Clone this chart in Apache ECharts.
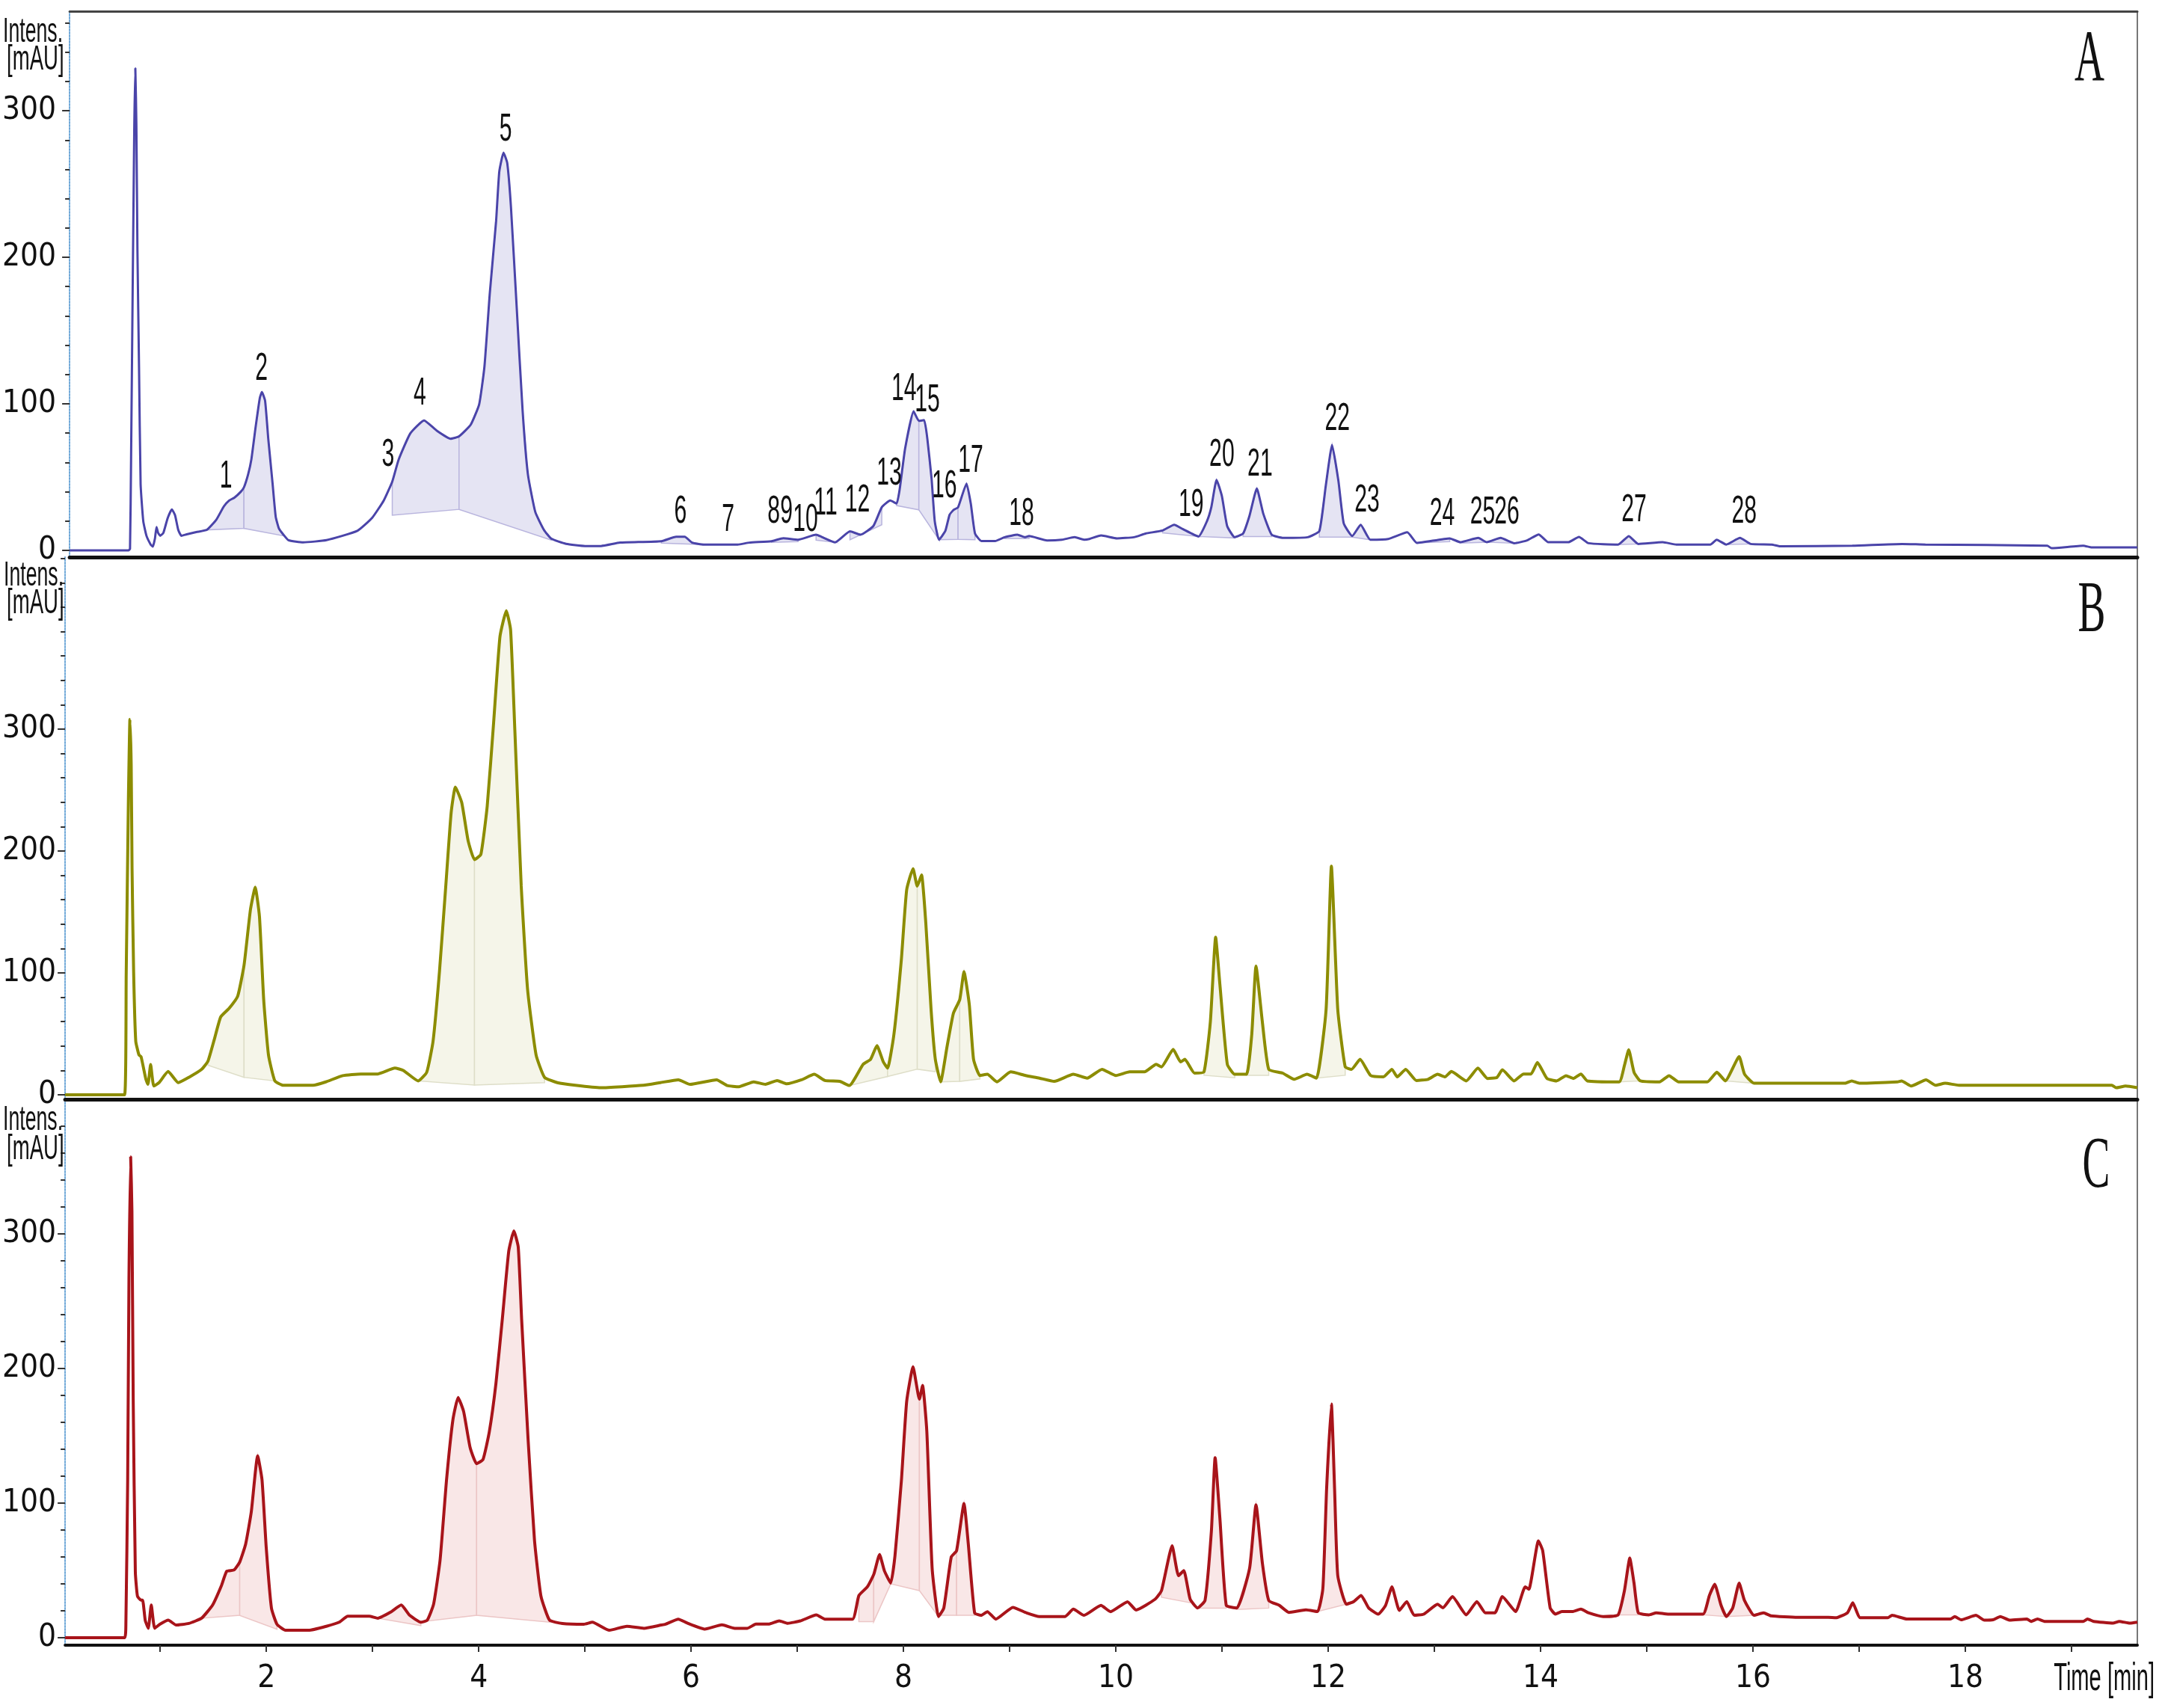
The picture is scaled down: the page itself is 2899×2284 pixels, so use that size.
<!DOCTYPE html>
<html><head><meta charset="utf-8">
<script src="https://cdn.jsdelivr.net/npm/echarts@6/dist/echarts.min.js"></script>
<style>html,body{margin:0;padding:0;background:#fff}#c{width:2899px;height:2284px}</style>
</head><body><div id="c"></div>
<script>
// ---------- DATA (time in min, intensity in mAU) ----------
const timeA = [0.105,0.66,0.675,0.685,0.70,0.715,0.725,0.735,0.745,0.76,0.775,0.80,0.83,0.87,0.89,0.91,0.925,0.94,0.96,0.99,1.03,1.07,1.10,1.13,1.16,1.21,1.30,1.40,1.49,1.56,1.61,1.66,1.72,1.75,1.79,1.82,1.86,1.90,1.92,1.95,1.98,2.02,2.05,2.08,2.12,2.17,2.31,2.53,2.82,2.96,3.07,3.15,3.21,3.32,3.45,3.57,3.70,3.78,3.89,3.97,4.02,4.07,4.13,4.16,4.20,4.235,4.27,4.325,4.38,4.43,4.50,4.58,4.65,4.79,4.97,5.12,5.30,5.69,5.83,5.91,5.98,6.09,6.41,6.52,6.73,6.84,6.98,7.15,7.20,7.33,7.47,7.57,7.69,7.77,7.85,7.91,7.94,7.99,8.07,8.12,8.17,8.20,8.24,8.27,8.31,8.37,8.41,8.45,8.49,8.57,8.61,8.65,8.71,8.84,8.93,9.05,9.12,9.16,9.33,9.47,9.59,9.68,9.73,9.84,9.99,10.15,10.26,10.42,10.53,10.61,10.76,10.84,10.88,10.93,10.98,11.03,11.10,11.18,11.24,11.31,11.37,11.45,11.56,11.79,11.90,11.96,12.02,12.08,12.13,12.21,12.29,12.38,12.55,12.73,12.82,13.13,13.23,13.40,13.48,13.61,13.74,13.86,13.97,14.06,14.25,14.35,14.44,14.72,14.82,14.91,15.14,15.27,15.59,15.65,15.74,15.87,15.97,16.17,16.25,16.93,17.40,17.62,18.77,18.81,19.11,19.19,19.62];
const intensityA = [0,0,1,63,178,287,329,290,205,125,45,20,10,4,2.5,8,16,12,10,12,22,28,24,14,10,11,12.5,14,21,30,34,36,40,43,52,62,84,104,108,102,76,46,23,15,11,7,5.5,7,13.3,22.2,34.1,47,61.9,79.8,88.7,81.7,76.2,77.8,85.7,99.6,125.4,175,224.7,258.4,271.3,264.4,234.6,165.1,95.6,52,26.2,14.2,8,4.5,3,3,5.3,6.3,9.3,9.3,5.3,4,4,5.3,6.3,8.3,7.3,10.7,9.3,5.5,13,10.7,16.6,29.4,34,32,42.2,69.4,94.9,88.4,88.9,76.2,49,20,7.3,13.3,24.3,27.7,29.4,45.6,32,11.5,6.4,6.4,9,10.7,9,9.8,6.8,7.3,9,7.3,7.8,10.2,8.2,9,11.5,13.6,17.5,14.6,9.5,20.1,29.4,48.1,37.1,16.6,9,11.5,23.5,42.2,25.2,10.7,8.5,9,13.3,43.9,71.9,47.3,18.4,9.8,17.5,7.3,7.8,12.4,5.1,8.2,5.6,8.5,5.6,8.5,4.9,6.8,10.9,5.6,5.6,9.2,4.9,4,9.7,4.4,5.6,4,4,7.3,4,8.5,4.4,4,2.8,3.2,4.4,4,3.2,1.5,3.2,2,2];

const timeB = [0.105,0.665,0.68,0.70,0.715,0.727,0.735,0.75,0.77,0.80,0.82,0.865,0.885,0.91,0.94,0.99,1.075,1.17,1.27,1.39,1.45,1.51,1.57,1.65,1.73,1.79,1.85,1.895,1.935,1.975,2.02,2.08,2.16,2.44,2.56,2.72,2.89,3.05,3.21,3.29,3.43,3.51,3.57,3.63,3.69,3.74,3.78,3.84,3.90,3.96,4.02,4.08,4.14,4.20,4.26,4.30,4.34,4.40,4.46,4.54,4.62,4.74,4.91,5.15,5.55,5.71,5.88,5.99,6.24,6.34,6.45,6.59,6.70,6.81,6.90,7.04,7.16,7.26,7.40,7.49,7.62,7.69,7.75,7.81,7.85,7.91,7.98,8.03,8.09,8.13,8.17,8.21,8.26,8.30,8.35,8.41,8.47,8.53,8.57,8.62,8.66,8.72,8.79,8.88,9.01,9.15,9.28,9.42,9.60,9.73,9.87,10.00,10.13,10.27,10.38,10.43,10.54,10.61,10.65,10.74,10.83,10.89,10.94,10.98,11.05,11.12,11.23,11.28,11.32,11.38,11.44,11.57,11.68,11.80,11.89,11.98,12.03,12.09,12.16,12.22,12.30,12.40,12.52,12.60,12.65,12.73,12.83,12.94,13.03,13.10,13.16,13.30,13.41,13.50,13.59,13.64,13.75,13.84,13.91,13.97,14.06,14.15,14.24,14.31,14.38,14.44,14.74,14.79,14.83,14.88,14.94,15.12,15.21,15.30,15.57,15.66,15.74,15.87,15.92,16.01,16.87,16.93,17.00,17.36,17.40,17.49,17.63,17.72,17.81,17.94,19.38,19.42,19.51,19.62];
const intensityB = [0,0,98,237,308,271,186,101,44,32.7,31.3,12.9,8.6,24.8,7.2,10,19.1,10,14.3,20.8,27.6,45.5,63.9,71,80.9,106.4,151.8,170.3,146.2,78,32.7,11.4,7.8,7.8,10.6,15.7,17.1,17.1,21.9,20,11.4,18.5,44,100.8,171.7,231.2,252.5,239.7,208.5,193,197.2,236.9,305,375.9,397.1,381.5,299.3,171.7,86.6,32.7,14.3,10,7.8,5.8,7.8,10,12.3,8.6,12.3,7.6,6.6,10.6,8.6,11.7,9,12.3,16.8,11.7,11,7.6,25,29.1,40.3,27,21.9,49.5,110.9,168.1,185.5,171.2,180.4,141.5,70,29.1,10.6,39.3,66.9,78.1,101,74,29.1,15.8,16.8,10.6,18.8,15.8,13.7,11,16.8,13.7,20.9,15.8,18.8,18.8,25,22.9,37.2,27,29.1,17.8,18.8,59.7,129.3,90.4,25,16.8,16.8,49.5,105.7,59.7,20.9,17.8,12.7,16.8,13.7,70,187.5,70,22.9,20.9,29.1,15.8,14.7,20.9,14.7,20.9,11.7,12.7,16.8,14.7,19.1,11.4,21.9,13.4,14.3,20.5,11.4,17.1,17.1,26.5,13.4,11.4,15.7,13.4,17.1,11.4,10.6,24.2,37,18.5,11.4,10.6,15.7,10.6,10.6,18.5,11.4,31.3,17.1,9.5,9.5,11.4,9.5,10.6,11.4,7.2,12.3,7.8,9.5,7.8,7.8,5.8,7.2,5.8];

const timeC = [0.105,0.665,0.677,0.694,0.706,0.722,0.734,0.746,0.766,0.786,0.819,0.835,0.859,0.888,0.916,0.948,0.997,1.077,1.15,1.27,1.39,1.494,1.575,1.627,1.696,1.749,1.805,1.858,1.918,1.959,1.999,2.048,2.10,2.18,2.40,2.565,2.686,2.767,2.969,3.05,3.17,3.27,3.35,3.455,3.515,3.575,3.636,3.697,3.757,3.806,3.858,3.919,3.98,4.04,4.10,4.162,4.222,4.283,4.331,4.372,4.404,4.465,4.525,4.586,4.667,4.788,4.99,5.07,5.23,5.395,5.556,5.718,5.76,5.88,5.96,6.13,6.29,6.41,6.53,6.61,6.73,6.83,6.91,7.03,7.18,7.26,7.52,7.58,7.66,7.72,7.775,7.82,7.88,7.92,7.98,8.03,8.09,8.15,8.18,8.22,8.27,8.33,8.38,8.45,8.50,8.57,8.61,8.67,8.73,8.79,8.87,9.03,9.16,9.28,9.52,9.60,9.70,9.86,9.95,10.11,10.19,10.37,10.43,10.53,10.59,10.64,10.70,10.77,10.84,10.90,10.935,10.98,11.04,11.14,11.26,11.32,11.38,11.44,11.54,11.63,11.79,11.90,11.95,11.985,12.03,12.06,12.09,12.17,12.24,12.31,12.38,12.47,12.54,12.60,12.67,12.74,12.81,12.90,13.03,13.08,13.17,13.30,13.40,13.48,13.57,13.64,13.765,13.855,13.89,13.98,14.02,14.09,14.14,14.20,14.30,14.38,14.45,14.59,14.73,14.79,14.84,14.88,14.92,15.02,15.09,15.20,15.53,15.59,15.64,15.70,15.75,15.81,15.87,15.92,16.01,16.10,16.17,16.42,16.71,16.78,16.89,16.94,17.01,17.27,17.31,17.45,17.86,17.90,17.96,18.10,18.18,18.26,18.33,18.42,18.58,18.62,18.68,18.75,19.11,19.15,19.21,19.39,19.45,19.55,19.62];
const intensityC = [0,0,10,117.4,266.4,357.4,317.1,177,48.8,30.9,27.9,27.9,13,7,24.3,7,10,13,9.4,10.6,14.5,24.3,38.3,49.4,50.3,56.2,69.6,93.5,135.2,117.4,66.7,21.9,10,5.5,5.5,8.5,11.5,16,16,14.5,19,24.3,16.6,11.5,13,24.9,57.7,117.4,162,178.5,168,141.2,129.3,132.3,153.1,188.9,236.6,287.3,302.2,290.3,236.6,147.2,72.6,30.9,13,10.6,10,11.5,5.5,8.5,7,9.4,10.1,13.8,11,6.4,9.6,7,7,10.1,10.1,12.5,10.7,12.5,16.9,13.8,13.8,31.3,37.8,47,61.8,49.8,40.6,60.9,116.3,175.4,201.2,177.2,187.4,153.2,51.6,15.7,22.1,60,64.6,99.7,70.1,18.4,16.6,19.3,13.8,22.5,18.4,15.7,15.7,21.2,16.6,24,19.3,26.7,20.6,28.6,35,68.3,46.1,49.8,28.6,22.1,27.7,79.4,133.8,88.6,24,22.1,51.7,98.8,55.4,27.7,24,18.8,20.7,19.4,36.9,110.8,173.6,110.8,46.2,24.9,26.8,31.4,22.2,17.5,24,37.8,20.3,26.8,16.6,17.5,24.9,22.2,30.5,17,26.8,18.5,18.5,30.5,19.4,37.8,36,72,64.6,22.2,17.5,19.4,19.4,21.2,18.5,15.7,17,35.1,59.1,40.6,18.5,17,18.5,17.5,17.5,31.4,39.7,24,15.7,22.2,40.6,27.7,16.6,18.5,16.2,15.1,15.1,14.8,18.5,25.9,14.8,14.8,16.6,13.9,13.9,15.7,13.3,16.6,13,13.3,15.7,13,13.9,12.1,13.9,12.1,12.1,13.9,12.1,10.8,12.1,10.8,11.5];

// integrated peak areas: [start time, end time, baseline at start, baseline at end]
const peakAreasA = [[1.40,1.75,14,15],[1.75,2.12,15,10],[3.15,3.78,24,28],[3.78,4.65,28,7],[5.69,6.09,5,4],[6.73,6.98,5.5,6],[7.15,7.33,7,5.5],[7.47,7.77,7.3,17.5],[7.91,8.12,30.6,27.7],[8.12,8.31,27.7,7.3],[8.31,8.49,7.3,7.5],[8.49,8.65,7.5,7.3],[8.93,9.16,8,8],[10.42,10.76,12,9.5],[10.76,11.10,9.5,8.5],[11.18,11.45,9.5,9.5],[11.90,12.21,9,9],[12.21,12.38,9,7.3],[12.82,13.13,5.1,6],[13.23,13.48,5,5.6],[13.48,13.74,5.6,4.9],[14.72,14.91,4,4.4],[15.74,15.97,4,4.4]];
const peakAreasB = [[1.45,1.79,24.2,14.3],[1.79,2.08,14.3,11.4],[3.43,3.96,11.4,8],[3.96,4.62,8,10],[7.49,7.85,7.6,15],[7.85,8.13,15,21],[8.13,8.30,21,19],[8.35,8.53,10.6,11],[8.53,8.72,11,13],[10.83,11.12,16,14],[11.23,11.44,16,16],[11.89,12.16,13.7,16],[14.74,14.94,10.6,11.4],[15.74,16.01,11.4,9.5]];
const peakAreasC = [[1.39,1.749,14.5,16.6],[1.749,2.10,16.6,6.3],[3.05,3.455,14.5,9],[3.515,3.98,12.4,16.6],[3.98,4.667,16.6,11.5],[7.58,7.72,12,12],[7.72,7.88,12,40],[7.88,8.15,40,35],[8.15,8.33,35,15.7],[8.33,8.50,16.6,16.6],[8.50,8.67,16.6,16.6],[10.43,10.70,30,26],[10.77,11.04,22,22],[11.14,11.44,21,22],[11.90,12.17,19.4,24.9],[14.73,14.92,17,17],[15.53,15.75,17,15.7],[15.75,16.01,15.7,16.6]];

// peak numbers of chromatogram A
const peakLabelText = ['1','2','3','4','5','6','7','8','9','10','11','12','13','14','15','16','17','18','19','20','21','22','23','24','25','26','27','28'];
const peakLabelTime = [1.58,1.915,3.11,3.41,4.22,5.87,6.32,6.75,6.87,7.05,7.24,7.54,7.84,7.98,8.20,8.36,8.61,9.09,10.69,10.98,11.34,12.07,12.35,13.06,13.44,13.67,14.87,15.91];
const peakLabelIntensity = [50,123.6,65,106.6,287,26.4,20.8,26.4,26.4,20.8,32,34,52,110,102,43.4,61,24.5,31,65,58.5,89.6,34,24.5,25.5,25.5,27.4,26.4];

const timeTicks = [1,2,3,4,5,6,7,8,9,10,11,12,13,14,15,16,17,18,19];
const timeLabels = [2,4,6,8,10,12,14,16,18];
const intensityMajor = [0,100,200,300];
const intensityMinorA = [20,40,60,80,120,140,160,180,220,240,260,280,320,340,360];
const intensityMinorB = [20,40,60,80,120,140,160,180,220,240,260,280,320,340,360,380,400,420,440];
const intensityMinorC = [20,40,60,80,120,140,160,180,220,240,260,280,320,340,360,380];
const panelLetters = ['A','B','C'];
const axisTitleY = ['Intens.', '[mAU]'];
const axisTitleX = 'Time [min]';

// ---------- LAYOUT / STYLE ----------
const narrow = "'Liberation Sans Narrow','DejaVu Sans Condensed','Arial Narrow',sans-serif";
const X_MIN = 0.105, X_MAX = 19.62;
const panels = [
  {t: timeA, y: intensityA, areas: peakAreasA, minor: intensityMinorA, top: 15, height: 730, min: -4.59, max: 367.9, line: '#4a44a9', lw: 3, fill: '#e5e4f3', edge: '#b9b5de', labelMargin: 18},
  {t: timeB, y: intensityB, areas: peakAreasB, minor: intensityMinorB, top: 745, height: 725, min: -3.68, max: 441.1, line: '#8c8c00', lw: 4, fill: '#f5f5e9', edge: '#dedec8', labelMargin: 12},
  {t: timeC, y: intensityC, areas: peakAreasC, minor: intensityMinorC, top: 1470, height: 730, min: -5.56, max: 400, line: '#a8141a', lw: 4, fill: '#f9e7e7', edge: '#ecc6c6', labelMargin: 12}
];

const grids = [], xAxes = [], yAxes = [], series = [];
panels.forEach((p, k) => {
  grids.push({left: 87, width: 2771, top: p.top, height: p.height, containLabel: false});
  const last = k === 2;
  xAxes.push({
    type: 'value', gridIndex: k, min: X_MIN, max: X_MAX, position: 'bottom',
    splitLine: {show: false},
    axisLine: {show: true, onZero: false, lineStyle: {color: '#111', width: last ? 4 : 5}},
    axisTick: {show: last, customValues: timeTicks, length: 9, lineStyle: {color: '#333', width: 2}},
    axisLabel: {show: last, customValues: timeLabels, margin: 24, fontSize: 42, fontFamily: narrow, color: '#111'}
  });
  yAxes.push({
    type: 'value', gridIndex: k, min: p.min, max: p.max, position: 'left',
    splitLine: {show: false},
    axisLine: {show: true, onZero: false, lineStyle: {color: '#6fa8d8', width: 2, type: 'dotted'}},
    axisTick: {show: true, customValues: intensityMajor, length: 10, lineStyle: {color: '#333', width: 2}},
    axisLabel: {show: true, customValues: intensityMajor, margin: p.labelMargin, fontSize: 42, fontFamily: narrow, color: '#111'}
  });
  yAxes.push({
    type: 'value', gridIndex: k, min: p.min, max: p.max, position: 'left',
    splitLine: {show: false}, axisLine: {show: false},
    axisTick: {show: true, customValues: p.minor, length: 6, lineStyle: {color: '#333', width: 2}},
    axisLabel: {show: false}
  });
  yAxes.push({
    type: 'value', gridIndex: k, min: p.min, max: p.max, position: 'right',
    splitLine: {show: false},
    axisLine: {show: true, onZero: false, lineStyle: {color: '#777', width: 2}},
    axisTick: {show: false}, axisLabel: {show: false}
  });
  const xi = k, yi = k * 3;
  series.push({
    type: 'custom', xAxisIndex: xi, yAxisIndex: yi, z: 1, clip: true, silent: true,
    data: p.areas, encode: {x: [0, 1], y: [2, 3]},
    renderItem: (params, api) => {
      const r = p.areas[params.dataIndex];
      const pts = [];
      for (let i = 0; i < p.t.length; i++) {
        if (p.t[i] >= r[0] - 1e-9 && p.t[i] <= r[1] + 1e-9) pts.push(api.coord([p.t[i], p.y[i]]));
      }
      pts.push(api.coord([r[1], r[3]]));
      pts.push(api.coord([r[0], r[2]]));
      return {type: 'polygon', shape: {points: pts}, style: {fill: p.fill, stroke: p.edge, lineWidth: 1.5}};
    }
  });
  series.push({
    type: 'line', xAxisIndex: xi, yAxisIndex: yi, z: 3, showSymbol: false, symbol: 'none',
    smooth: 0.15, clip: true, silent: true,
    data: p.t.map((t, i) => [t, p.y[i]]),
    lineStyle: {color: p.line, width: p.lw}
  });
});
xAxes.push({
  type: 'value', gridIndex: 0, min: X_MIN, max: X_MAX, position: 'top',
  splitLine: {show: false}, axisLine: {show: true, onZero: false, lineStyle: {color: '#444', width: 3}},
  axisTick: {show: false}, axisLabel: {show: false}
});
series.push({
  type: 'custom', xAxisIndex: 0, yAxisIndex: 0, z: 5, clip: false, silent: true,
  data: peakLabelTime.map((t, i) => [t, peakLabelIntensity[i]]),
  renderItem: (params, api) => {
    const c = api.coord([api.value(0), api.value(1)]);
    return {type: 'text', x: c[0], y: c[1], scaleX: 0.58,
      style: {text: peakLabelText[params.dataIndex], font: '52px "Liberation Sans", Arial, sans-serif', fill: '#111',
        textAlign: 'center', textVerticalAlign: 'middle', align: 'center', verticalAlign: 'middle'}};
  }
});

function txt(text, x, y, size, family, sx, align) {
  return {type: 'text', x: x, y: y, scaleX: sx, z: 10,
    style: {text: text, font: size + 'px ' + family, fill: '#111',
      textAlign: align, textVerticalAlign: 'middle', align: align, verticalAlign: 'middle'}};
}
const sansF = '"Liberation Sans", Arial, sans-serif';
const serifF = '"Liberation Serif", "Times New Roman", serif';
const graphics = [
  txt(axisTitleY[0], 4, 43, 46, sansF, 0.58, 'left'), txt(axisTitleY[1], 9, 80, 46, sansF, 0.6, 'left'),
  txt(axisTitleY[0], 5, 770, 46, sansF, 0.58, 'left'), txt(axisTitleY[1], 9, 807, 46, sansF, 0.6, 'left'),
  txt(axisTitleY[0], 4, 1498, 46, sansF, 0.58, 'left'), txt(axisTitleY[1], 9, 1537, 46, sansF, 0.6, 'left'),
  txt(panelLetters[0], 2794, 82, 97, serifF, 0.57, 'center'),
  txt(panelLetters[1], 2797, 819, 97, serifF, 0.57, 'center'),
  txt(panelLetters[2], 2803, 1562, 97, serifF, 0.57, 'center'),
  txt(axisTitleX, 2881, 2246, 52, sansF, 0.56, 'right')
];

const chart = echarts.init(document.getElementById('c'), null, {renderer: 'canvas', width: 2899, height: 2284});
chart.setOption({
  backgroundColor: '#ffffff',
  animation: false,
  grid: grids, xAxis: xAxes, yAxis: yAxes, series: series,
  graphic: graphics
});
</script></body></html>
